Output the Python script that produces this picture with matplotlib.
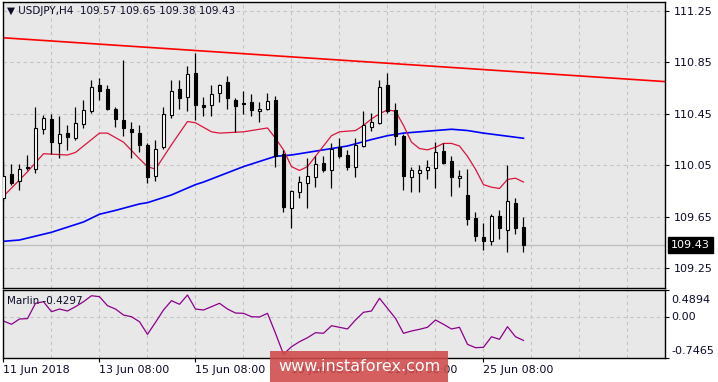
import numpy as np
import matplotlib
matplotlib.use("Agg")
import matplotlib.pyplot as plt
from matplotlib.patches import Rectangle

# USDJPY H4 candles
opens = [109.80, 109.98, 109.93, 110.04, 110.02, 110.33, 110.41, 110.22, 110.30, 110.26,
         110.37, 110.47, 110.67, 110.64, 110.49, 110.40, 110.33, 110.30, 110.21, 109.97,
         110.19, 110.44, 110.64, 110.58, 110.77, 110.52, 110.52, 110.61, 110.70, 110.56,
         110.535, 110.54, 110.47, 110.49, 110.56, 110.14, 109.72, 109.84, 109.91, 109.96,
         110.07, 110.01, 110.19, 110.13, 110.04, 110.20, 110.35, 110.38, 110.67, 110.48,
         110.28, 109.96, 109.99, 110.01, 110.03, 110.16, 110.08, 109.95, 109.82, 109.64,
         109.49, 109.46, 109.66, 109.55, 109.76, 109.57]
highs = [110.08, 110.06, 110.06, 110.13, 110.50, 110.44, 110.45, 110.43, 110.36, 110.50,
         110.56, 110.71, 110.73, 110.67, 110.50, 110.87, 110.39, 110.36, 110.22, 110.25,
         110.50, 110.71, 110.71, 110.82, 110.92, 110.58, 110.67, 110.68, 110.74, 110.57,
         110.63, 110.60, 110.54, 110.61, 110.59, 110.17, 109.86, 109.97, 110.11, 110.12,
         110.12, 110.22, 110.26, 110.17, 110.26, 110.47, 110.46, 110.71, 110.77, 110.53,
         110.29, 110.04, 110.05, 110.09, 110.23, 110.22, 110.12, 110.01, 110.02, 109.69,
         109.60, 109.67, 109.70, 110.05, 109.80, 109.65]
lows = [109.77, 109.90, 109.86, 110.01, 109.99, 110.29, 110.14, 110.11, 110.17, 110.25,
        110.34, 110.46, 110.56, 110.48, 110.35, 110.28, 110.11, 110.15, 109.91, 109.93,
        110.18, 110.42, 110.49, 110.47, 110.40, 110.43, 110.43, 110.54, 110.49, 110.31,
        110.45, 110.43, 110.39, 110.48, 110.04, 109.69, 109.56, 109.80, 109.72, 109.88,
        110.00, 109.87, 110.11, 110.01, 109.96, 110.19, 110.32, 110.37, 110.46, 110.21,
        109.86, 109.84, 109.84, 109.94, 109.87, 110.06, 109.81, 109.88, 109.59, 109.46,
        109.39, 109.43, 109.48, 109.38, 109.52, 109.38]
closes = [109.97, 109.91, 110.02, 110.03, 110.34, 110.42, 110.23, 110.29, 110.27, 110.38,
          110.48, 110.66, 110.63, 110.49, 110.41, 110.34, 110.31, 110.21, 109.96, 110.18,
          110.45, 110.63, 110.57, 110.76, 110.52, 110.50, 110.60, 110.67, 110.57, 110.51,
          110.525, 110.48, 110.49, 110.55, 110.12, 109.73, 109.85, 109.92, 109.97, 110.06,
          110.01, 110.18, 110.12, 110.04, 110.21, 110.36, 110.39, 110.66, 110.47, 110.28,
          109.97, 110.01, 110.01, 110.04, 110.15, 110.07, 109.96, 109.97, 109.63, 109.50,
          109.46, 109.66, 109.56, 109.77, 109.56, 109.43]

# fast moving average (crimson), read at bar positions
fast_bars = [0, 3, 5, 8, 9, 12, 13, 15, 17, 18, 19, 21, 23, 24, 26, 27, 30, 33, 34, 35, 36,
             37, 38, 40, 41, 42, 44, 45, 46, 47, 48, 49, 50, 51, 52, 53, 54, 55, 56, 57, 58,
             59, 60, 61, 62, 63, 64, 65]
fast_ma = [109.81, 110.00, 110.14, 110.13, 110.15, 110.30, 110.30, 110.23, 110.10, 110.04,
           110.02, 110.21, 110.39, 110.38, 110.31, 110.30, 110.31, 110.34, 110.26, 110.17,
           110.04, 110.01, 110.04, 110.20, 110.28, 110.31, 110.32, 110.36, 110.41, 110.45,
           110.48, 110.47, 110.36, 110.23, 110.18, 110.17, 110.19, 110.22, 110.22, 110.20,
           110.12, 110.02, 109.90, 109.88, 109.87, 109.94, 109.95, 109.92]

# slow moving average (blue)
slow_bars = [0, 2, 6, 8, 10, 12, 14, 17, 18, 20, 21, 24, 25, 30, 34, 36, 40, 43, 46, 48,
             50, 54, 56, 58, 60, 65]
slow_ma = [109.46, 109.47, 109.53, 109.57, 109.61, 109.67, 109.70, 109.75, 109.76, 109.80,
           109.82, 109.90, 109.92, 110.04, 110.12, 110.13, 110.17, 110.20, 110.25, 110.28,
           110.30, 110.32, 110.33, 110.32, 110.30, 110.26]

# red trend line anchors
trend_bars = [0, 82.7]
trend_vals = [111.04, 110.70]

# Marlin oscillator
marlin = [-0.074, -0.134, -0.037, -0.030, 0.251, 0.280, 0.097, 0.146, 0.110, 0.189,
          0.280, 0.390, 0.372, 0.207, 0.146, 0.036, 0.005, -0.087, -0.318, -0.098,
          0.128, 0.299, 0.233, 0.403, 0.146, 0.128, 0.189, 0.251, 0.146, 0.073,
          0.067, 0.005, 0.000, 0.067, -0.299, -0.684, -0.545, -0.453, -0.380, -0.288,
          -0.299, -0.160, -0.189, -0.220, -0.055, 0.086, 0.110, 0.343, 0.159, -0.024,
          -0.299, -0.257, -0.226, -0.189, -0.055, -0.134, -0.220, -0.189, -0.501, -0.563,
          -0.556, -0.362, -0.409, -0.178, -0.362, -0.4297]

price_ticks = [111.25, 110.85, 110.45, 110.05, 109.65, 109.25]
date_ticks = [0, 12, 24, 36, 48, 60]
date_labels = ["11 Jun 2018", "13 Jun 08:00", "15 Jun 08:00", "19 Jun 08:00",
               "21 Jun 08:00", "25 Jun 08:00"]

bg = "#e8e8e8"
grid_c = "#c4c4c4"
txt_c = "#0a0a28"

fig = plt.figure(figsize=(7.18, 3.82), dpi=100)
fig.patch.set_facecolor("white")
ax = fig.add_axes([0.00376, 0.24529, 0.92242, 0.74947])
ax2 = fig.add_axes([0.00376, 0.06361, 0.92242, 0.17644])

x = np.arange(len(closes))
o = np.array(opens)
c = np.array(closes)
xlim = (-0.1, 82.69)

for a in (ax, ax2):
    a.set_facecolor(bg)
    a.set_xlim(*xlim)
    for s in a.spines.values():
        s.set_color("black")
        s.set_linewidth(1.0)
    for gx in range(6, 83, 6):
        a.axvline(gx, color=grid_c, lw=0.8, ls=(0, (3, 3)), zorder=0)

# main panel
ax.set_ylim(109.095, 111.318)
for p in price_ticks:
    ax.axhline(p, color=grid_c, lw=0.8, ls=(0, (3, 3)), zorder=0)
ax.axhline(closes[-1], color="#c0c0c0", lw=1.0, zorder=0)

ax.plot(trend_bars, trend_vals, color="#ff0000", lw=1.2, zorder=2)
ax.plot(slow_bars, slow_ma, color="#0000ff", lw=1.2, zorder=2)
ax.plot(fast_bars, fast_ma, color="#dc143c", lw=0.9, zorder=2)

ax.vlines(x, lows, highs, color="black", lw=0.9, zorder=3)
body_col = np.where(c >= o, "white", "black")
ax.bar(x, np.maximum(np.abs(c - o), 0.004), bottom=np.minimum(o, c), width=0.46,
       color=body_col, edgecolor="black", linewidth=0.8, zorder=4)

ax.yaxis.tick_right()
ax.set_yticks(price_ticks)
ax.set_yticklabels([f"{p:.2f}" for p in price_ticks])
ax.tick_params(axis="y", length=3, width=0.8, pad=3, labelsize=8, colors="black",
               labelcolor=txt_c)
ax.set_xticks([])

ax.annotate(f"{closes[-1]:.2f}", xy=(1, closes[-1]), xycoords=("axes fraction", "data"),
            xytext=(6, 0), textcoords="offset pixels", ha="left", va="center",
            fontsize=8, color="white",
            bbox=dict(boxstyle="square,pad=0.25", facecolor="black", edgecolor="black"))

ax.text(0.006, 0.985, "\u25bc USDJPY,H4  109.57 109.65 109.38 109.43",
        transform=ax.transAxes, ha="left", va="top", fontsize=7.5, color=txt_c)

# Marlin panel
ax2.set_ylim(-0.7465, 0.4894)
ax2.axhline(0, color=grid_c, lw=0.8, ls=(0, (3, 3)), zorder=0)
ax2.plot(x, marlin, color="#8b008b", lw=0.9, zorder=2)
ax2.yaxis.tick_right()
ax2.set_yticks([-0.7465, 0.0, 0.4894])
ax2.set_yticklabels([])
ax2.tick_params(axis="y", length=3, width=0.8)
for val, lab, dy in [(0.4894, "0.4894", -10), (0.0, "0.00", 0), (-0.7465, "-0.7465", 7)]:
    ax2.annotate(lab, xy=(1, val), xycoords=("axes fraction", "data"),
                 xytext=(6, dy), textcoords="offset pixels", ha="left", va="center",
                 fontsize=8, color=txt_c, annotation_clip=False)
ax2.text(0.006, 0.84, "Marlin -0.4297", transform=ax2.transAxes, ha="left", va="center",
         fontsize=7.5, color=txt_c)

ax2.set_xticks(date_ticks)
ax2.set_xticklabels(date_labels)
for t in ax2.get_xticklabels():
    t.set_horizontalalignment("left")
ax2.tick_params(axis="x", length=3, width=0.8, pad=2, labelsize=8, labelcolor=txt_c)

# watermark
fig.patches.append(Rectangle((0.376, 0.0), 0.248, 0.082, transform=fig.transFigure,
                             facecolor="#d04848", alpha=0.88, edgecolor="none", zorder=10))
fig.text(0.5, 0.040, "www.instaforex.com", ha="center", va="center", fontsize=11.5,
         color="white", zorder=11)

fig.savefig("out.png", dpi=100, facecolor="white")
